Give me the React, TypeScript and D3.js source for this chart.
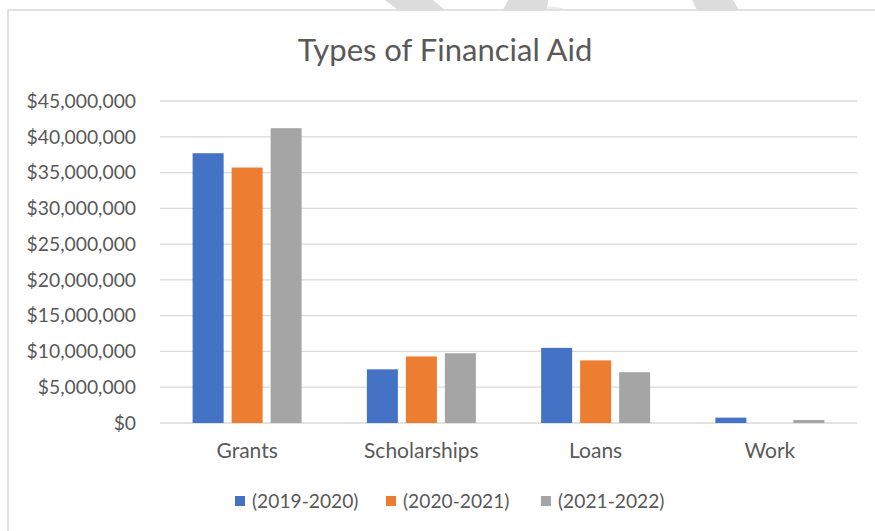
import React from "react";
import * as d3 from "d3";

const categories = ["Grants", "Scholarships", "Loans", "Work"];
const seriesNames = ["(2019-2020)", "(2020-2021)", "(2021-2022)"];
const values2019 = [37700000, 7500000, 10500000, 750000];
const values2020 = [35700000, 9300000, 8750000, 0];
const values2021 = [41200000, 9750000, 7100000, 420000];
const seriesColors = ["#4472C4", "#ED7D31", "#A5A5A5"];
const yTicks = [0, 5e6, 10e6, 15e6, 20e6, 25e6, 30e6, 35e6, 40e6, 45e6];

const W = 875;
const H = 531;
const FONT = "Lato, 'Open Sans', sans-serif";
const TXT = "#595959";

export default function App() {
  const series = [values2019, values2020, values2021];
  const left = 160;
  const right = 857;
  const top = 101;
  const bottom = 423;

  const x0 = d3.scaleBand<string>().domain(categories).range([left, right]).padding(0);
  const y = d3.scaleLinear().domain([0, 45e6]).range([bottom, top]);
  const groupW = 109;
  const x1 = d3
    .scaleBand<number>()
    .domain([0, 1, 2])
    .range([-groupW / 2, groupW / 2])
    .paddingInner(8 / 39)
    .paddingOuter(0);

  const fmt = (v: number) => "$" + d3.format(",")(v);

  return (
    <svg
      width={W}
      height={H}
      style={{ position: "absolute", left: 0, top: 0, background: "#fff" }}
    >
      <rect x={0} y={0} width={W} height={H} fill="#fff" />
      {/* watermark fragments at top */}
      <polygon points="385,0 433,0 445,10 398,10" fill="#dcdcdc" />
      <polygon points="508,0 548,0 547,10 503,10" fill="#dcdcdc" />
      <polygon points="548,6 562,8 566,10 547,10" fill="#ececec" />
      <polygon points="692,0 733,0 739,10 697,10" fill="#dcdcdc" />
      {/* chart border */}
      <rect x={8} y={10} width={900} height={560} fill="none" stroke="#d9d9d9" strokeWidth={1.5} />

      <text
        x={445}
        y={61}
        textAnchor="middle"
        fontFamily={FONT}
        fontSize={31}
        fill={TXT}
      >
        Types of Financial Aid
      </text>

      {yTicks.map((t) => (
        <g key={t}>
          <line x1={left} x2={right} y1={y(t)} y2={y(t)} stroke="#d9d9d9" strokeWidth={1.3} />
          <text
            x={136}
            y={y(t)}
            dy="0.35em"
            textAnchor="end"
            fontFamily={FONT}
            fontSize={19.3}
            fill={TXT}
          >
            {fmt(t)}
          </text>
        </g>
      ))}

      {categories.map((c, ci) => {
        const cx = (x0(c) as number) + x0.bandwidth() / 2;
        return (
          <g key={c}>
            {series.map((vals, si) => (
              <rect
                key={si}
                x={cx + (x1(si) as number)}
                y={y(vals[ci])}
                width={x1.bandwidth()}
                height={bottom - y(vals[ci])}
                fill={seriesColors[si]}
              />
            ))}
            <text
              x={cx}
              y={458}
              textAnchor="middle"
              fontFamily={FONT}
              fontSize={21}
              fill={TXT}
            >
              {c}
            </text>
          </g>
        );
      })}

      {seriesNames.map((n, i) => {
        const lx = [235, 386, 541][i];
        return (
          <g key={n}>
            <rect x={lx} y={496} width={10} height={10} fill={seriesColors[i]} />
            <text
              x={lx + 17}
              y={501}
              dy="0.35em"
              fontFamily={FONT}
              fontSize={19.2}
              fill={TXT}
            >
              {n}
            </text>
          </g>
        );
      })}
    </svg>
  );
}
